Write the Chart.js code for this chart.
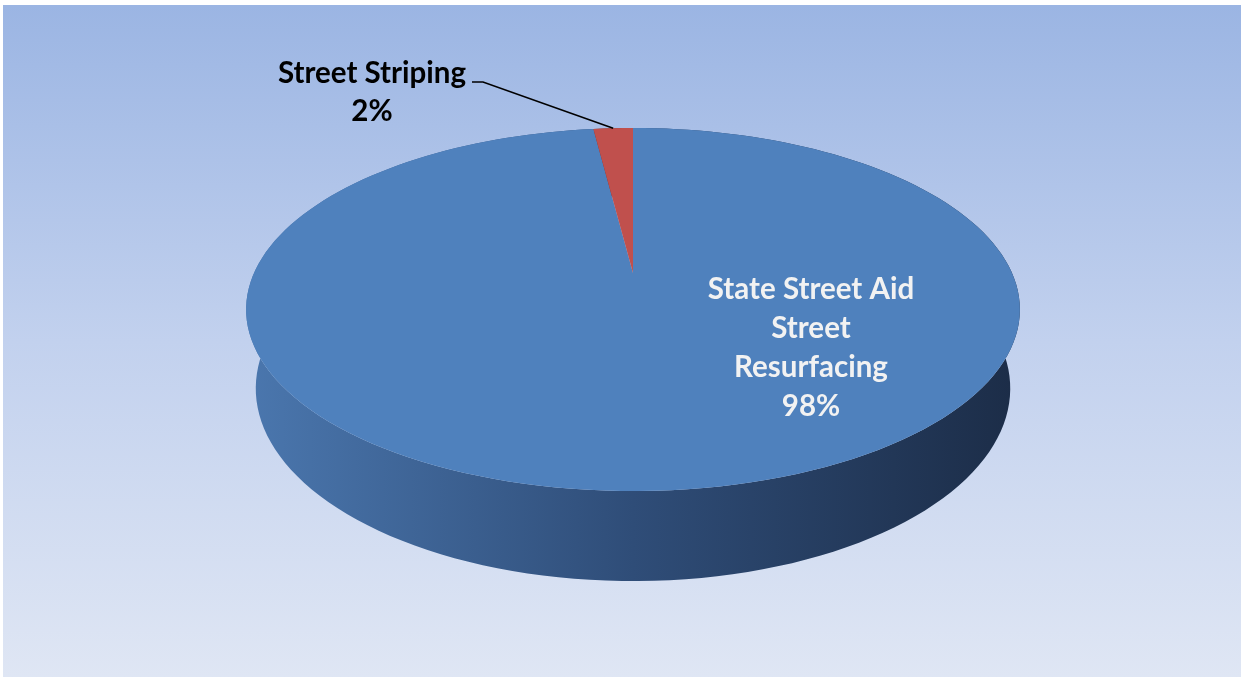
<!DOCTYPE html>
<html>
<head>
<meta charset="utf-8">
<script src="https://cdn.jsdelivr.net/npm/chart.js@4.4.1/dist/chart.umd.min.js"></script>
<style>
  html, body { margin: 0; padding: 0; background: #fff; }
  canvas { display: block; }
</style>
</head>
<body>
<canvas id="pieStreets" width="1241" height="677"></canvas>
<script>
// Datos del gráfico
const categorias = ['State Street Aid Street Resurfacing', 'Street Striping'];
const valores = [98, 2];
const colores = ['#4F81BD', '#C0504D'];
const etiquetas = [
    ['State Street Aid', 'Street', 'Resurfacing', '98%'],
    ['Street Striping', '2%']
];

// Parámetros de la vista en perspectiva (pastel 3D)
const RX = 379;          // escala horizontal de la cara superior
const PERSP = 0.201;     // fuerza de la perspectiva
const SIN_T = 0.4596;    // inclinación de la cámara
const COS_T = Math.sqrt(1 - SIN_T * SIN_T);
const DIST = COS_T / PERSP;
const FOCAL = RX * DIST;
const ALTO = 0.2363;     // grosor del pastel (en radios)

function proyectar(cx, cy, X, Y, Z) {
    const zc = DIST + Y * COS_T - Z * SIN_T;
    const yc = Y * SIN_T + Z * COS_T;
    return [cx + FOCAL * X / zc, cy - FOCAL * yc / zc];
}

// punto del borde para un ángulo de Chart.js (0 = derecha, sentido horario)
function borde(cx, cy, ang, Z) {
    return proyectar(cx, cy, Math.cos(ang), -Math.sin(ang), Z);
}

const fondo = {
    id: 'fondo',
    beforeDraw(chart) {
        const ctx = chart.ctx;
        ctx.save();
        ctx.fillStyle = '#ffffff';
        ctx.fillRect(0, 0, chart.width, chart.height);
        const g = ctx.createLinearGradient(0, 5, 0, chart.height);
        g.addColorStop(0, '#9BB5E3');
        g.addColorStop(0.5, '#C2D1EE');
        g.addColorStop(1, '#DFE6F4');
        ctx.fillStyle = g;
        ctx.fillRect(3, 5, chart.width - 3, chart.height - 5);
        ctx.restore();
    }
};

const pastel3D = {
    id: 'pastel3D',
    beforeDatasetsDraw(chart) {
        const ctx = chart.ctx;
        const arcos = chart.getDatasetMeta(0).data;
        const cx = arcos[0].x;
        const cy = arcos[0].y;
        const pasos = 180;

        ctx.save();
        // pared lateral
        const gl = ctx.createLinearGradient(cx - RX, 0, cx + RX, 0);
        gl.addColorStop(0, '#4A76AD');
        gl.addColorStop(0.5, '#2F4D78');
        gl.addColorStop(1, '#1C2D48');
        arcos.forEach((arco, i) => {
            const a0 = arco.startAngle, a1 = arco.endAngle;
            const n = Math.max(2, Math.ceil(pasos * (a1 - a0) / (2 * Math.PI)));
            ctx.beginPath();
            for (let k = 0; k <= n; k++) {
                const p = borde(cx, cy, a0 + (a1 - a0) * k / n, 0);
                k === 0 ? ctx.moveTo(p[0], p[1]) : ctx.lineTo(p[0], p[1]);
            }
            for (let k = n; k >= 0; k--) {
                const p = borde(cx, cy, a0 + (a1 - a0) * k / n, -ALTO);
                ctx.lineTo(p[0], p[1]);
            }
            ctx.closePath();
            ctx.fillStyle = i === 0 ? gl : '#7A2F2D';
            ctx.fill();
        });

        // cara superior
        arcos.forEach((arco, i) => {
            const a0 = arco.startAngle, a1 = arco.endAngle;
            const n = Math.max(2, Math.ceil(pasos * (a1 - a0) / (2 * Math.PI)));
            ctx.beginPath();
            const c = proyectar(cx, cy, 0, 0, 0);
            ctx.moveTo(c[0], c[1]);
            for (let k = 0; k <= n; k++) {
                const p = borde(cx, cy, a0 + (a1 - a0) * k / n, 0);
                ctx.lineTo(p[0], p[1]);
            }
            ctx.closePath();
            ctx.fillStyle = chart.data.datasets[0].backgroundColor[i];
            ctx.fill();
        });

        // etiquetas
        ctx.textAlign = 'center';
        ctx.textBaseline = 'alphabetic';
        ctx.font = 'bold 29.5px Lato';
        ctx.fillStyle = '#F2F2F2';
        etiquetas[0].forEach((t, k) => ctx.fillText(t, 811, 299 + k * 39));

        ctx.fillStyle = '#000000';
        etiquetas[1].forEach((t, k) => ctx.fillText(t, 372, 83 + k * 38));

        // línea guía hacia la porción pequeña
        const rojo = arcos[1];
        const punta = borde(cx, cy, (rojo.startAngle + rojo.endAngle) / 2, 0);
        ctx.beginPath();
        ctx.moveTo(472, 82);
        ctx.lineTo(483, 82);
        ctx.lineTo(punta[0], punta[1]);
        ctx.strokeStyle = '#000000';
        ctx.lineWidth = 1.6;
        ctx.stroke();
        ctx.restore();
        return false;
    }
};

new Chart(document.getElementById('pieStreets'), {
    type: 'pie',
    data: {
        labels: categorias,
        datasets: [{
            data: valores,
            backgroundColor: colores,
            borderWidth: 0
        }]
    },
    options: {
        responsive: false,
        animation: false,
        layout: { padding: { left: 25, top: 0, bottom: 131 } },
        plugins: {
            legend: { display: false },
            tooltip: { enabled: false }
        }
    },
    plugins: [fondo, pastel3D]
});
</script>
</body>
</html>
